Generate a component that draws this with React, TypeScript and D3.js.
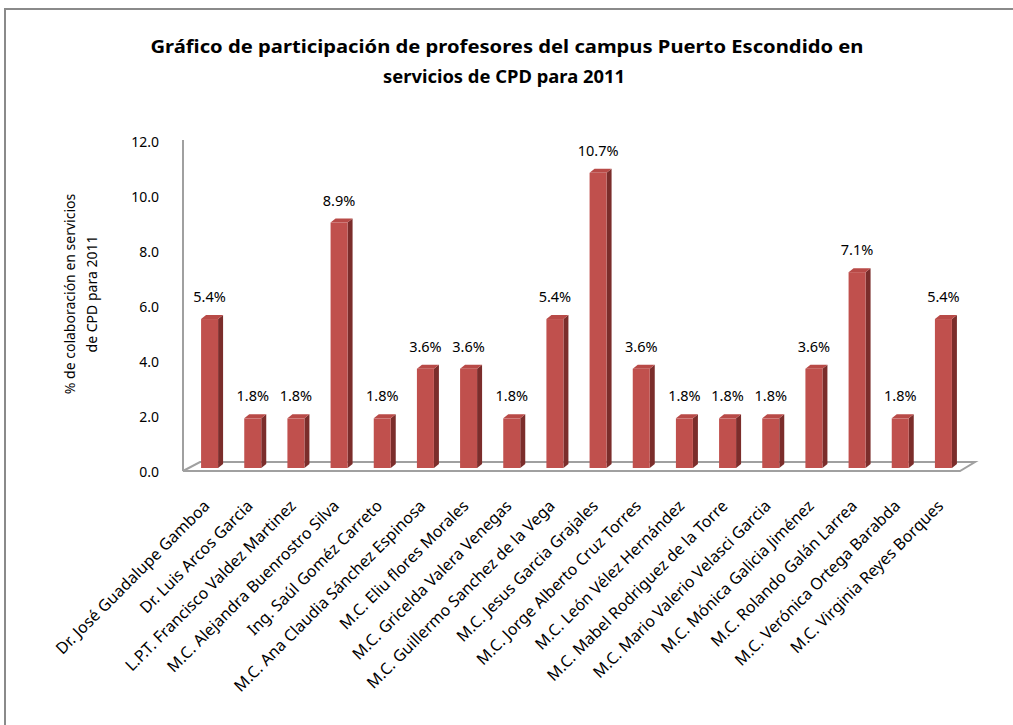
import React from "react";
import * as d3 from "d3";

const names: string[] = [
  "Dr. José Guadalupe Gamboa",
  "Dr. Luis Arcos Garcia",
  "L.P.T. Francisco Valdez Martinez",
  "M.C. Alejandra Buenrostro Silva",
  "Ing. Saúl Goméz Carreto",
  "M.C. Ana Claudia Sánchez Espinosa",
  "M.C. Eliu flores Morales",
  "M.C. Gricelda Valera Venegas",
  "M.C. Guillermo Sanchez de la Vega",
  "M.C. Jesus Garcia Grajales",
  "M.C. Jorge Alberto Cruz Torres",
  "M.C. León Vélez Hernández",
  "M.C. Mabel Rodriguez de la Torre",
  "M.C. Mario Valerio Velasci Garcia",
  "M.C. Mónica Galicia Jiménez",
  "M.C. Rolando Galán Larrea",
  "M.C. Verónica Ortega Barabda",
  "M.C. Virginia Reyes Borques",
];

const values: number[] = [
  5.4, 1.8, 1.8, 8.9, 1.8, 3.6, 3.6, 1.8, 5.4, 10.7, 3.6, 1.8, 1.8, 1.8, 3.6, 7.1, 1.8, 5.4,
];

const yTicks: number[] = [0, 2, 4, 6, 8, 10, 12];

const titleLines: string[] = [
  "Gráfico de participación de profesores del campus Puerto Escondido en",
  "servicios de CPD para 2011",
];
const yTitleLines: string[] = ["% de colaboración en servicios", "de CPD para 2011"];

const FONT = "'Noto Sans', 'Open Sans', sans-serif";

export default function App() {
  const W = 1013;
  const H = 725;
  // bars sit on the back plane, tick labels on the front plane
  const y = d3.scaleLinear().domain([0, 12]).range([468, 137]);
  const yLab = d3.scaleLinear().domain([0, 12]).range([472, 142]);
  const x = d3.scaleBand<string>().domain(names).range([188, 965]).paddingInner(0).paddingOuter(0);
  const barW = 17;
  const dx = 5;
  const dy = -4;

  const axisX = 183;
  const floorFrontY = 471;
  const floorBackY = 462;

  return (
    <svg
      width={W}
      height={H}
      style={{ position: "absolute", left: 0, top: 0, background: "#fff" }}
      fontFamily={FONT}
    >
      <rect x={0} y={0} width={W} height={H} fill="#fff" />
      {/* outer frame */}
      <path d={`M5,${H} L5,9 L${W},9`} fill="none" stroke="#8a8a8a" strokeWidth={2} />

      {/* title */}
      <text x={507} y={53} textAnchor="middle" fontSize={18.5} fontWeight="bold" fill="#000"
        textLength={713} lengthAdjust="spacingAndGlyphs">
        {titleLines[0]}
      </text>
      <text x={504} y={83} textAnchor="middle" fontSize={18.5} fontWeight="bold" fill="#000"
        textLength={242} lengthAdjust="spacingAndGlyphs">
        {titleLines[1]}
      </text>

      {/* y-axis title */}
      {yTitleLines.map((t, i) => (
        <text
          key={i}
          transform={`translate(${75 + i * 22},${294}) rotate(-90)`}
          textAnchor="middle"
          fontSize={14}
          fill="#000"
        >
          {t}
        </text>
      ))}

      {/* y tick labels */}
      {yTicks.map((t) => (
        <text key={t} x={159} y={yLab(t) + 5} textAnchor="end" fontSize={14} fill="#000">
          {t.toFixed(1)}
        </text>
      ))}

      {/* floor */}
      <path
        d={`M${axisX},${floorFrontY} L${axisX + 17},${floorBackY} L975,${floorBackY} L960,${floorFrontY} Z`}
        fill="#fff"
        stroke="#a0a0a0"
        strokeWidth={2}
      />
      {/* vertical axis */}
      <line x1={axisX} x2={axisX} y1={140} y2={floorFrontY} stroke="#a0a0a0" strokeWidth={2} />

      {/* bars */}
      {names.map((n, i) => {
        const cx = (x(n) as number) + x.bandwidth() / 2;
        const x0 = cx - barW / 2;
        const x1 = cx + barW / 2;
        const yt = y(values[i]);
        const yb = y(0);
        return (
          <g key={n}>
            <path
              d={`M${x1},${yb} L${x1},${yt} L${x1 + dx},${yt + dy} L${x1 + dx},${yb + dy} Z`}
              fill="#7b2d2b"
            />
            <path
              d={`M${x0},${yt} L${x0 + dx},${yt + dy} L${x1 + dx},${yt + dy} L${x1},${yt} Z`}
              fill="#b84a47"
            />
            <rect x={x0} y={yt} width={barW} height={yb - yt} fill="#c0504d" />
            <text x={cx} y={yt - 17} textAnchor="middle" fontSize={14.5} fill="#000">
              {values[i].toFixed(1) + "%"}
            </text>
          </g>
        );
      })}

      {/* category labels */}
      {names.map((n) => {
        const cx = (x(n) as number) + x.bandwidth() / 2;
        return (
          <text
            key={n}
            transform={`translate(${cx + 1},${507}) rotate(-45)`}
            textAnchor="end"
            fontSize={16}
            fill="#000"
          >
            {n}
          </text>
        );
      })}
    </svg>
  );
}
